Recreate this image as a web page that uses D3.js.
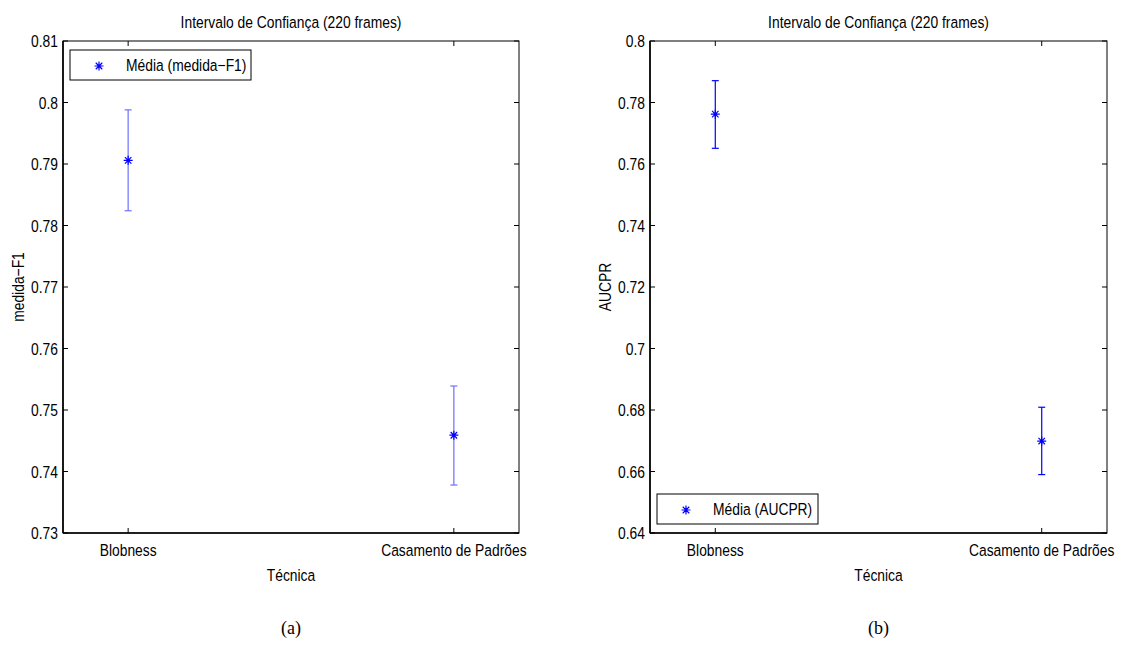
<!DOCTYPE html>
<html>
<head>
<meta charset="utf-8">
<script src="https://cdn.jsdelivr.net/npm/d3@7"></script>
<style>
  body { margin: 0; background: #fff; }
  svg text { font-family: "Liberation Sans", Arial, sans-serif; }
  .caption { font-family: "Liberation Serif", "Times New Roman", serif !important; }
</style>
</head>
<body>
<div id="chart"></div>
<script>
// values
const categories = ["Blobness", "Casamento de Padrões"];
const f1Mean  = [0.7906, 0.7459];
const f1Lower = [0.7824, 0.7378];
const f1Upper = [0.7988, 0.7539];
const aucMean  = [0.7762, 0.6699];
const aucLower = [0.7651, 0.6590];
const aucUpper = [0.7871, 0.6809];
const f1Ticks  = [0.73, 0.74, 0.75, 0.76, 0.77, 0.78, 0.79, 0.8, 0.81];
const aucTicks = [0.64, 0.66, 0.68, 0.7, 0.72, 0.74, 0.76, 0.78, 0.8];

const W = 1121, H = 648;
const svg = d3.select("#chart").append("svg")
  .attr("width", W).attr("height", H);

// asterisk marker (plus + cross) like matlab '*'
function star(r) {
  const d = r * 0.72;
  return `M0,${-r}V${r}M${-r},0H${r}M${-d},${-d}L${d},${d}M${-d},${d}L${d},${-d}`;
}

// condensed helvetica look: squeeze the text horizontally
const SX = 0.84;
function label(g, x, y, txt, anchor, rot) {
  return g.append("text")
    .attr("transform", `translate(${x},${y})` + (rot ? " rotate(-90)" : "") + ` scale(${SX},1)`)
    .attr("text-anchor", anchor || "start")
    .attr("font-size", 16.5)
    .text(txt);
}

function panel(opt) {
  const x = d3.scaleLinear().domain([0.8, 2.2]).range([opt.left, opt.right]);
  const y = d3.scaleLinear().domain(opt.domain).range([opt.bottom, opt.top]);
  const g = svg.append("g");
  const fmt = d => String(+d.toFixed(2));
  const tl = 5;

  // box
  g.append("rect")
    .attr("x", opt.left).attr("y", opt.top)
    .attr("width", opt.right - opt.left).attr("height", opt.bottom - opt.top)
    .attr("fill", "none").attr("stroke", "#000").attr("stroke-width", 1);
  g.append("line").attr("x1", opt.left).attr("x2", opt.left)
    .attr("y1", opt.top).attr("y2", opt.bottom).attr("stroke", "#000").attr("stroke-width", 1.6);
  g.append("line").attr("x1", opt.left).attr("x2", opt.right)
    .attr("y1", opt.bottom).attr("y2", opt.bottom).attr("stroke", "#000").attr("stroke-width", 1.6);

  // y ticks, both sides, inward
  opt.ticks.forEach(t => {
    const yy = y(t);
    g.append("line").attr("x1", opt.left).attr("x2", opt.left + tl)
      .attr("y1", yy).attr("y2", yy).attr("stroke", "#000");
    g.append("line").attr("x1", opt.right).attr("x2", opt.right - tl)
      .attr("y1", yy).attr("y2", yy).attr("stroke", "#000");
    label(g, opt.left - 5, yy + 6, fmt(t), "end");
  });

  // x ticks top & bottom
  categories.forEach((c, i) => {
    const xx = x(i + 1);
    g.append("line").attr("x1", xx).attr("x2", xx)
      .attr("y1", opt.bottom).attr("y2", opt.bottom - tl).attr("stroke", "#000");
    g.append("line").attr("x1", xx).attr("x2", xx)
      .attr("y1", opt.top).attr("y2", opt.top + tl).attr("stroke", "#000");
    label(g, xx, opt.bottom + 23, c, "middle");
  });

  const cx = (opt.left + opt.right) / 2;
  label(g, cx, 28, "Intervalo de Confiança (220 frames)", "middle");
  label(g, cx, opt.bottom + 48, "Técnica", "middle");
  label(g, opt.left - 39, (opt.top + opt.bottom) / 2, opt.ylabel, "middle", true);
  g.append("text").attr("class", "caption").attr("x", cx).attr("y", 634)
    .attr("text-anchor", "middle").attr("font-size", 18).text(opt.caption);

  // error bars
  const cap = 3.5;
  opt.mean.forEach((m, i) => {
    const xx = x(i + 1);
    const eb = g.append("g").attr("stroke", opt.barColor).attr("stroke-width", 1.2);
    eb.append("line").attr("x1", xx).attr("x2", xx)
      .attr("y1", y(opt.lower[i])).attr("y2", y(opt.upper[i]));
    [opt.lower[i], opt.upper[i]].forEach(v => {
      eb.append("line").attr("x1", xx - cap).attr("x2", xx + cap)
        .attr("y1", y(v)).attr("y2", y(v));
    });
    g.append("path").attr("d", star(4.5))
      .attr("transform", `translate(${xx},${y(m)})`)
      .attr("stroke", "#0000ff").attr("stroke-width", 1.2).attr("fill", "none");
  });

  // legend
  const lg = g.append("g");
  lg.append("rect").attr("x", opt.legend[0]).attr("y", opt.legend[1])
    .attr("width", opt.legend[2]).attr("height", 30)
    .attr("fill", "#fff").attr("stroke", "#000").attr("stroke-width", 1);
  lg.append("path").attr("d", star(4.5))
    .attr("transform", `translate(${opt.legend[0] + 29},${opt.legend[1] + 16})`)
    .attr("stroke", "#0000ff").attr("stroke-width", 1.2).attr("fill", "none");
  label(lg, opt.legend[0] + 56, opt.legend[1] + 21, opt.legendText);
}

panel({
  left: 63, right: 519, top: 41, bottom: 533,
  domain: [0.73, 0.81], ticks: f1Ticks,
  mean: f1Mean, lower: f1Lower, upper: f1Upper,
  barColor: "#6f6fff", ylabel: "medida\u2212F1", caption: "(a)",
  legend: [70, 50, 181], legendText: "Média (medida\u2212F1)"
});

panel({
  left: 650, right: 1107, top: 41, bottom: 533,
  domain: [0.64, 0.8], ticks: aucTicks,
  mean: aucMean, lower: aucLower, upper: aucUpper,
  barColor: "#0000ff", ylabel: "AUCPR", caption: "(b)",
  legend: [657, 494, 161], legendText: "Média (AUCPR)"
});
</script>
</body>
</html>
